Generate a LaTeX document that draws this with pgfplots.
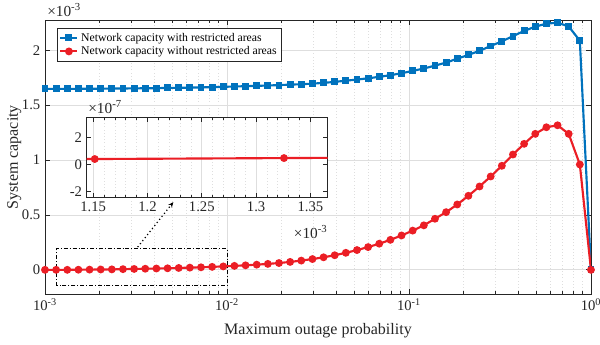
\documentclass[border=0pt]{standalone}
\usepackage{fontspec}
\setmainfont{Liberation Serif}
\usepackage{pgfplots}
\usepackage{pgfplotstable}
\pgfplotsset{compat=1.18}
\usetikzlibrary{arrows.meta}

\definecolor{mblue}{RGB}{0,114,189}
\definecolor{mred}{RGB}{235,30,37}
\definecolor{axgray}{RGB}{38,38,38}
\definecolor{gridgray}{RGB}{222,222,222}

\pgfplotstableread{
x blue red
0.001 1.647 0.00004
0.0011514 1.647 0.00004
0.0013257 1.647 0.00005
0.0015264 1.648 0.001
0.0017575 1.648 0.002
0.0020236 1.649 0.003
0.0023300 1.650 0.004
0.0026827 1.651 0.006
0.0030888 1.652 0.008
0.0035565 1.653 0.010
0.0040949 1.654 0.012
0.0047149 1.656 0.014
0.0054287 1.657 0.017
0.0062506 1.659 0.020
0.0071969 1.661 0.023
0.0082864 1.663 0.027
0.0095410 1.666 0.031
0.010985 1.669 0.036
0.012649 1.672 0.041
0.014563 1.675 0.047
0.016768 1.678 0.054
0.019307 1.682 0.062
0.022230 1.686 0.072
0.025595 1.690 0.084
0.029471 1.695 0.098
0.033932 1.702 0.114
0.039069 1.711 0.133
0.044984 1.722 0.155
0.051795 1.732 0.180
0.059636 1.744 0.207
0.068665 1.757 0.238
0.079060 1.772 0.273
0.091030 1.790 0.313
0.10481 1.811 0.357
0.12068 1.833 0.405
0.13895 1.859 0.465
0.15999 1.887 0.525
0.18421 1.922 0.595
0.21210 1.957 0.674
0.24421 1.994 0.759
0.28118 2.038 0.850
0.32375 2.080 0.947
0.37276 2.128 1.050
0.42919 2.175 1.147
0.49417 2.214 1.238
0.56899 2.241 1.298
0.65513 2.250 1.316
0.75431 2.216 1.238
0.86851 2.086 0.959
1.0 0 0
}\maindata

\pgfplotstableread{
x red
1.0 0.36
1.1514 0.41
1.3257 0.48
1.5264 0.56
}\insetdata

\pgfplotsset{
  mystyle/.style={
    scale only axis,
    tick align=inside,
    xtick pos=both, ytick pos=both,
    major tick length=3.5pt, minor tick length=2pt,
    axis line style={axgray, line width=0.5pt},
    every tick/.style={axgray, line width=0.5pt},
    major grid style={gridgray, line width=0.5pt},
    minor grid style={gridgray, dotted, line width=0.5pt},
    tick label style={font=\fontsize{11}{12}\selectfont, text=axgray},
    label style={font=\fontsize{12}{14}\selectfont, text=axgray},
  }
}

\begin{document}
\begin{tikzpicture}
\path[use as bounding box] (-33.75pt,-38.25pt) rectangle (416.25pt,220.5pt);
\begin{axis}[
  mystyle,
  name=main, at={(0pt,0pt)}, anchor=south west,
  width=409.5pt, height=205.125pt,
  xmode=log, xmin=1e-3, xmax=1, ymin=-0.22, ymax=2.27,
  xtick={0.001,0.01,0.1,1},
  xticklabels={10\textsuperscript{-3},10\textsuperscript{-2},10\textsuperscript{-1},10\textsuperscript{0}},
  minor xtick={0.002,0.003,0.004,0.005,0.006,0.007,0.008,0.009,0.02,0.03,0.04,0.05,0.06,0.07,0.08,0.09,0.2,0.3,0.4,0.5,0.6,0.7,0.8,0.9},
  ytick={0,0.5,1,1.5,2},
  yticklabels={0,0.5,1,1.5,2},
  xmajorgrids, xminorgrids, ymajorgrids,
  xlabel={Maximum outage probability},
  ylabel={System capacity},
  xlabel style={at={(axis description cs:0.5,0)}, anchor=base, yshift=-30.75pt},
  ylabel style={at={(axis description cs:-0.056,0.5)}, anchor=center},
  legend style={at={(axis description cs:0.022,0.973)}, anchor=north west,
    draw=axgray, line width=0.5pt, fill=white,
    font=\fontsize{8.8}{9.5}\selectfont, inner sep=1.5pt, row sep=-1.5pt,
    cells={anchor=west}},
  legend image code/.code={
    \draw[mark repeat=2,mark phase=2] plot coordinates {(0pt,0pt) (6.4pt,0pt) (12.8pt,0pt)};
  },
]
\addplot[mblue, line width=1.6pt, mark=square*, mark size=1.8pt, mark options={solid}] table[x=x,y=blue] {\maindata};
\addlegendentry{Network capacity with restricted areas}
\addplot[mred, line width=1.6pt, mark=*, mark size=2.1pt, mark options={solid}] table[x=x,y=red] {\maindata};
\addlegendentry{Network capacity without restricted areas}

\draw[black, line width=0.6pt, dash pattern=on 3pt off 1.5pt on 0.6pt off 1.5pt]
  (axis cs:1.16e-3,-0.144) rectangle (axis cs:0.01,0.193);
\draw[black, line width=0.9pt, dotted, -{Stealth[length=4pt,width=3.5pt]}]
  (axis cs:3.23e-3,0.207) -- (axis cs:5.07e-3,0.616);
\end{axis}
\node[anchor=base west, inner sep=0pt, text=axgray, font=\fontsize{11.5}{12}\selectfont]
  at ([xshift=1.5pt,yshift=3pt]main.north west) {×10\textsuperscript{-3}};

\begin{axis}[
  mystyle,
  name=inset, at={(31.3pt,72.5pt)}, anchor=south west,
  width=180.75pt, height=60pt,
  xmin=1.144, xmax=1.366, ymin=-2.41, ymax=3.48,
  xtick={1.15,1.2,1.25,1.3,1.35},
  xticklabels={1.15,1.2,1.25,1.3,1.35},
  minor x tick num=4,
  ytick={-2,0,2}, yticklabels={-2,0,2},
  xmajorgrids, xminorgrids,
  axis background/.style={fill=white},
]
\addplot[mred, line width=1.6pt, mark=*, mark size=2.1pt, mark options={solid}] table[x=x,y=red] {\insetdata};
\end{axis}
\node[anchor=base west, inner sep=0pt, text=axgray, font=\fontsize{11.5}{12}\selectfont]
  at ([xshift=1pt,yshift=3pt]inset.north west) {×10\textsuperscript{-7}};
\node[anchor=north east, inner sep=0pt, text=axgray, font=\fontsize{11.5}{12}\selectfont]
  at ([yshift=-21pt]inset.south east) {×10\textsuperscript{-3}};
\end{tikzpicture}
\end{document}
